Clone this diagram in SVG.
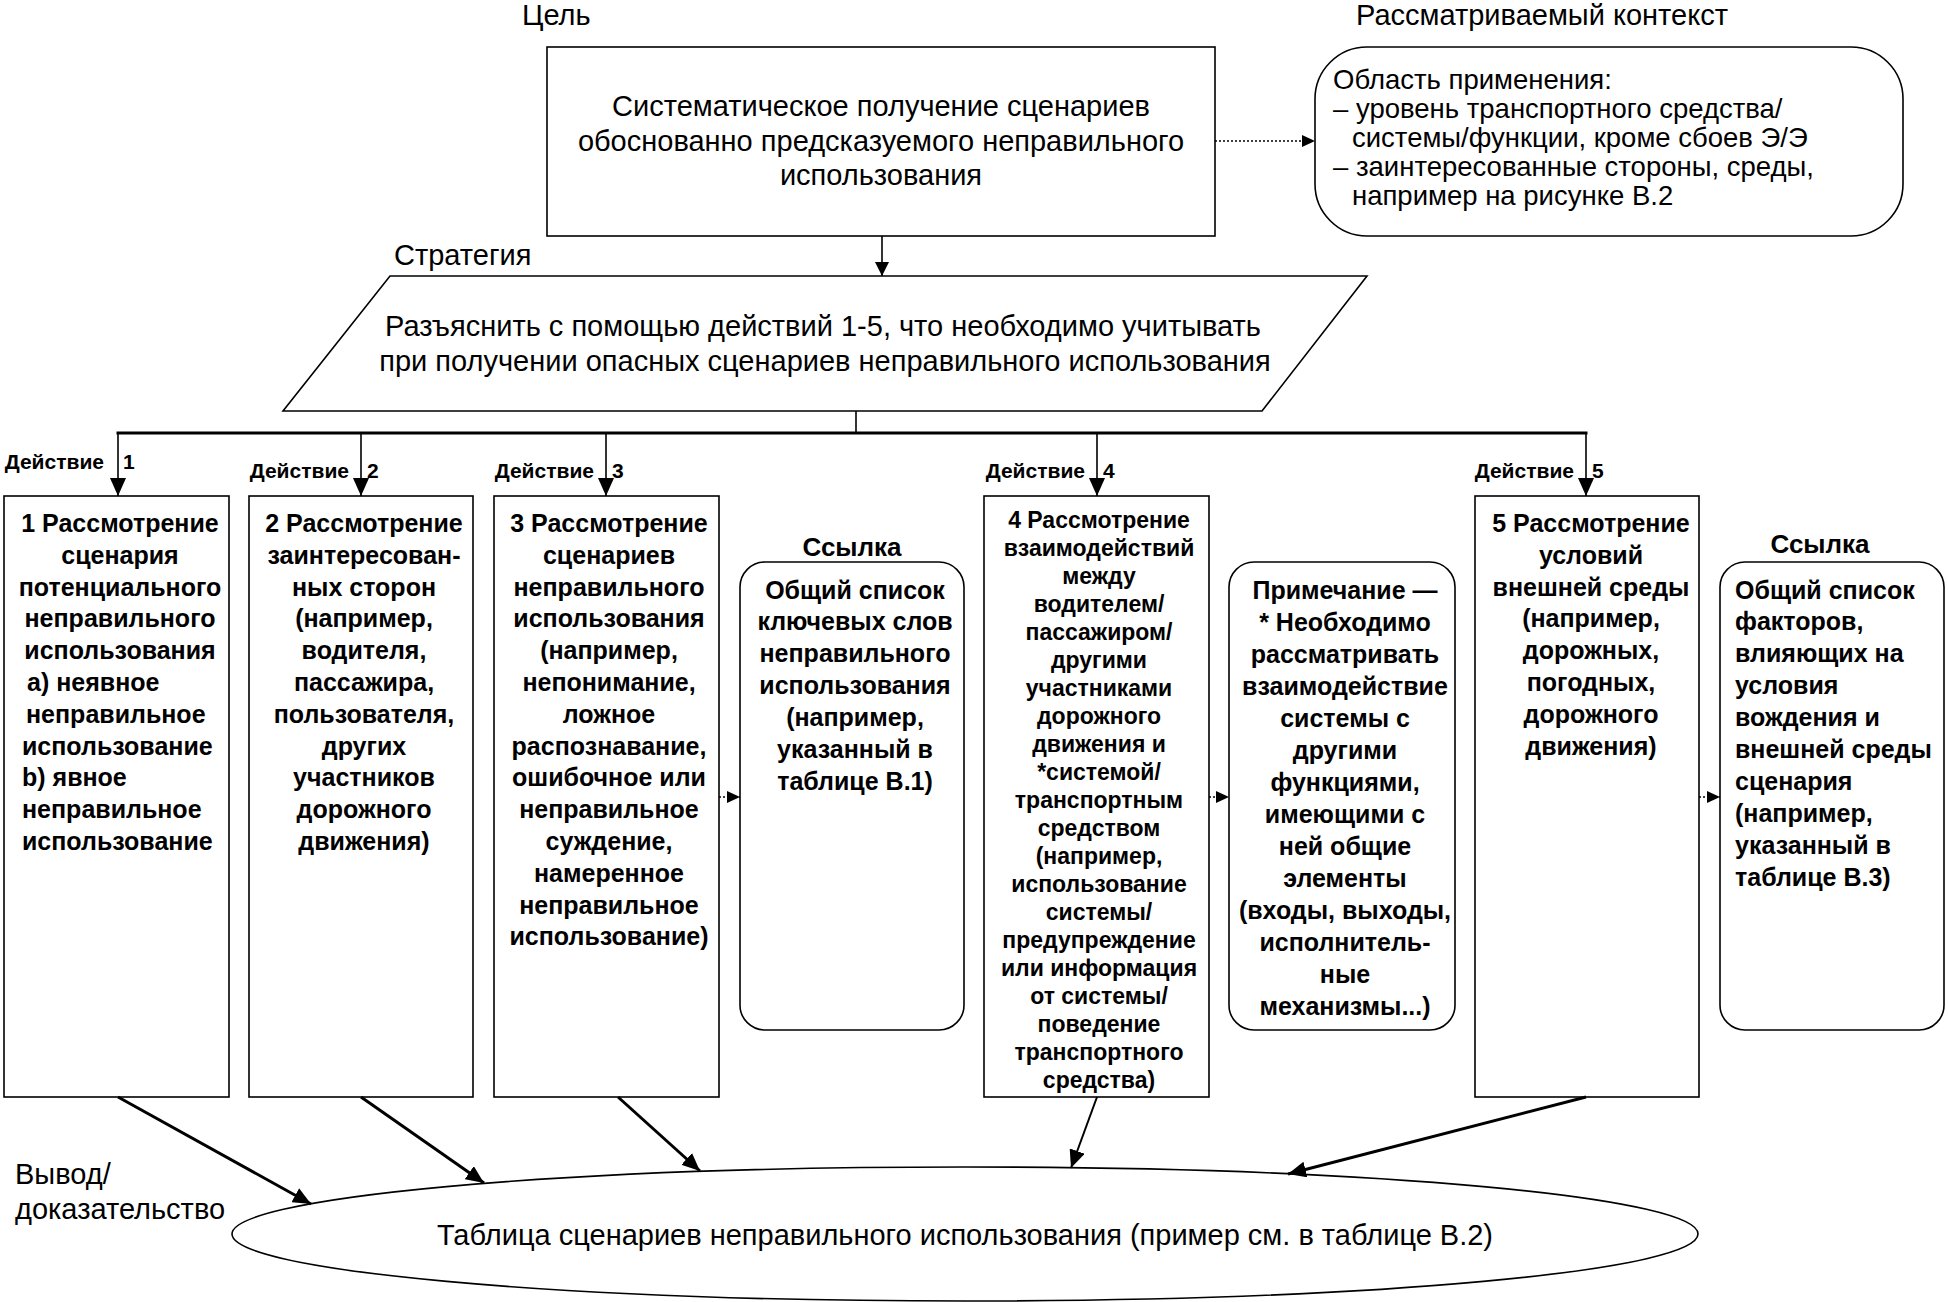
<svg xmlns="http://www.w3.org/2000/svg" width="1948" height="1302" viewBox="0 0 1948 1302">
<style>
.bg{fill:#fff}
.box{fill:#fff;stroke:#000;stroke-width:1.6}
.lbl{font-family:"Liberation Sans",Arial,sans-serif;font-size:29px;fill:#000}
.ctx{font-family:"Liberation Sans",Arial,sans-serif;font-size:27.5px;fill:#000}
.bt{font-family:"Liberation Sans",Arial,sans-serif;font-size:25px;font-weight:bold;fill:#000;text-anchor:middle}
.btl{font-family:"Liberation Sans",Arial,sans-serif;font-size:25px;font-weight:bold;fill:#000}
.bt4{font-family:"Liberation Sans",Arial,sans-serif;font-size:23px;font-weight:bold;fill:#000;text-anchor:middle}
.act{font-family:"Liberation Sans",Arial,sans-serif;font-size:21px;font-weight:bold;fill:#000}
.mid{text-anchor:middle}
.end{text-anchor:end}
.ln{stroke:#000;stroke-width:1.6;fill:none}
.bus{stroke:#000;stroke-width:3.2;fill:none}
.thick{stroke:#000;stroke-width:3;fill:none}
.dot{stroke:#000;stroke-width:1.6;fill:none;stroke-dasharray:2 2}
</style>
<defs>
<marker id="ah" markerUnits="userSpaceOnUse" viewBox="0 0 14 14" markerWidth="14" markerHeight="14" refX="14" refY="7" orient="auto"><path d="M0,0 L14,7 L0,14 z" fill="#000"/></marker>
<marker id="ahb" markerUnits="userSpaceOnUse" viewBox="0 0 18 16" markerWidth="18" markerHeight="16" refX="18" refY="8" orient="auto"><path d="M0,0 L18,8 L0,16 z" fill="#000"/></marker>
<marker id="ahs" markerUnits="userSpaceOnUse" viewBox="0 0 13 12" markerWidth="13" markerHeight="12" refX="13" refY="6" orient="auto"><path d="M0,0 L13,6 L0,12 z" fill="#000"/></marker>
</defs>
<rect class="bg" x="0" y="0" width="1948" height="1302"/>

<g id="labels">
<text class="lbl" x="522" y="25">Цель</text>
<text class="lbl" x="1356" y="25">Рассматриваемый контекст</text>
<text class="lbl" x="394" y="265">Стратегия</text>
<text class="lbl" x="15" y="1184">Вывод/</text>
<text class="lbl" x="15" y="1219">доказательство</text>
<text class="act end" x="104" y="469">Действие</text>
<text class="act" x="123" y="469">1</text>
<text class="act end" x="349" y="478">Действие</text>
<text class="act" x="367" y="478">2</text>
<text class="act end" x="594" y="478">Действие</text>
<text class="act" x="612" y="478">3</text>
<text class="act end" x="1085" y="478">Действие</text>
<text class="act" x="1103" y="478">4</text>
<text class="act end" x="1574" y="478">Действие</text>
<text class="act" x="1592" y="478">5</text>
</g>

<g id="goal">
<rect class="box" x="547" y="47" width="668" height="189"/>
<text class="lbl mid" x="881" y="116">Систематическое получение сценариев</text>
<text class="lbl mid" x="881" y="151">обоснованно предсказуемого неправильного</text>
<text class="lbl mid" x="881" y="185">использования</text>
</g>

<g id="context">
<rect class="box" x="1315" y="47" width="588" height="189" rx="52" ry="52"/>
<text class="ctx" x="1333" y="89">Область применения:</text>
<text class="ctx" x="1333" y="118">– уровень транспортного средства/</text>
<text class="ctx" x="1352" y="147">системы/функции, кроме сбоев Э/Э</text>
<text class="ctx" x="1333" y="176">– заинтересованные стороны, среды,</text>
<text class="ctx" x="1352" y="205">например на рисунке В.2</text>
</g>

<g id="strategy">
<polygon class="box" points="390,276 1367,276 1262,411 283,411"/>
<text class="lbl mid" x="823" y="336">Разъяснить с помощью действий 1-5, что необходимо учитывать</text>
<text class="lbl mid" x="825" y="371">при получении опасных сценариев неправильного использования</text>
</g>

<g id="action1">
<rect class="box" x="4" y="496" width="225" height="601"/>
<text class="bt" x="120" y="532">1 Рассмотрение</text>
<text class="bt" x="120" y="563.8">сценария</text>
<text class="bt" x="120" y="595.6">потенциального</text>
<text class="bt" x="120" y="627.4">неправильного</text>
<text class="bt" x="120" y="659.2">использования</text>
<text class="btl" x="27" y="691">a) неявное</text>
<text class="btl" x="26" y="722.8">неправильное</text>
<text class="btl" x="22" y="754.6">использование</text>
<text class="btl" x="22" y="786.4">b) явное</text>
<text class="btl" x="22" y="818.2">неправильное</text>
<text class="btl" x="22" y="850">использование</text>
</g>

<g id="action2">
<rect class="box" x="249" y="496" width="224" height="601"/>
<text class="bt" x="364" y="532">2 Рассмотрение</text>
<text class="bt" x="364" y="563.8">заинтересован-</text>
<text class="bt" x="364" y="595.6">ных сторон</text>
<text class="bt" x="364" y="627.4">(например,</text>
<text class="bt" x="364" y="659.2">водителя,</text>
<text class="bt" x="364" y="691">пассажира,</text>
<text class="bt" x="364" y="722.8">пользователя,</text>
<text class="bt" x="364" y="754.6">других</text>
<text class="bt" x="364" y="786.4">участников</text>
<text class="bt" x="364" y="818.2">дорожного</text>
<text class="bt" x="364" y="850">движения)</text>
</g>

<g id="action3">
<rect class="box" x="494" y="496" width="225" height="601"/>
<text class="bt" x="609" y="532">3 Рассмотрение</text>
<text class="bt" x="609" y="563.8">сценариев</text>
<text class="bt" x="609" y="595.6">неправильного</text>
<text class="bt" x="609" y="627.4">использования</text>
<text class="bt" x="609" y="659.2">(например,</text>
<text class="bt" x="609" y="691">непонимание,</text>
<text class="bt" x="609" y="722.8">ложное</text>
<text class="bt" x="609" y="754.6">распознавание,</text>
<text class="bt" x="609" y="786.4">ошибочное или</text>
<text class="bt" x="609" y="818.2">неправильное</text>
<text class="bt" x="609" y="850">суждение,</text>
<text class="bt" x="609" y="881.8">намеренное</text>
<text class="bt" x="609" y="913.6">неправильное</text>
<text class="bt" x="609" y="945.4">использование)</text>
</g>

<g id="reference1">
<text class="bt" x="852" y="556" style="font-size:26px">Ссылка</text>
<rect class="box" x="740" y="562" width="224" height="468" rx="25" ry="25"/>
<text class="bt" x="855" y="598.5">Общий список</text>
<text class="bt" x="855" y="630.4">ключевых слов</text>
<text class="bt" x="855" y="662.3">неправильного</text>
<text class="bt" x="855" y="694.2">использования</text>
<text class="bt" x="855" y="726.1">(например,</text>
<text class="bt" x="855" y="758">указанный в</text>
<text class="bt" x="855" y="789.9">таблице В.1)</text>
</g>

<g id="action4">
<rect class="box" x="984" y="496" width="225" height="601"/>
<text class="bt4" x="1099" y="528">4 Рассмотрение</text>
<text class="bt4" x="1099" y="556">взаимодействий</text>
<text class="bt4" x="1099" y="584">между</text>
<text class="bt4" x="1099" y="612">водителем/</text>
<text class="bt4" x="1099" y="640">пассажиром/</text>
<text class="bt4" x="1099" y="668">другими</text>
<text class="bt4" x="1099" y="696">участниками</text>
<text class="bt4" x="1099" y="724">дорожного</text>
<text class="bt4" x="1099" y="752">движения и</text>
<text class="bt4" x="1099" y="780">*системой/</text>
<text class="bt4" x="1099" y="808">транспортным</text>
<text class="bt4" x="1099" y="836">средством</text>
<text class="bt4" x="1099" y="864">(например,</text>
<text class="bt4" x="1099" y="892">использование</text>
<text class="bt4" x="1099" y="920">системы/</text>
<text class="bt4" x="1099" y="948">предупреждение</text>
<text class="bt4" x="1099" y="976">или информация</text>
<text class="bt4" x="1099" y="1004">от системы/</text>
<text class="bt4" x="1099" y="1032">поведение</text>
<text class="bt4" x="1099" y="1060">транспортного</text>
<text class="bt4" x="1099" y="1088">средства)</text>
</g>

<g id="note">
<rect class="box" x="1229" y="562" width="226" height="468" rx="25" ry="25"/>
<text class="bt" x="1345" y="598.5">Примечание —</text>
<text class="bt" x="1345" y="630.5">* Необходимо</text>
<text class="bt" x="1345" y="662.5">рассматривать</text>
<text class="bt" x="1345" y="694.5">взаимодействие</text>
<text class="bt" x="1345" y="726.5">системы с</text>
<text class="bt" x="1345" y="758.5">другими</text>
<text class="bt" x="1345" y="790.5">функциями,</text>
<text class="bt" x="1345" y="822.5">имеющими с</text>
<text class="bt" x="1345" y="854.5">ней общие</text>
<text class="bt" x="1345" y="886.5">элементы</text>
<text class="bt" x="1345" y="918.5">(входы, выходы,</text>
<text class="bt" x="1345" y="950.5">исполнитель-</text>
<text class="bt" x="1345" y="982.5">ные</text>
<text class="bt" x="1345" y="1014.5">механизмы...)</text>
</g>

<g id="action5">
<rect class="box" x="1475" y="496" width="224" height="601"/>
<text class="bt" x="1591" y="532">5 Рассмотрение</text>
<text class="bt" x="1591" y="563.8">условий</text>
<text class="bt" x="1591" y="595.6">внешней среды</text>
<text class="bt" x="1591" y="627.4">(например,</text>
<text class="bt" x="1591" y="659.2">дорожных,</text>
<text class="bt" x="1591" y="691">погодных,</text>
<text class="bt" x="1591" y="722.8">дорожного</text>
<text class="bt" x="1591" y="754.6">движения)</text>
</g>

<g id="reference2">
<text class="bt" x="1820" y="553" style="font-size:26px">Ссылка</text>
<rect class="box" x="1720" y="562" width="224" height="468" rx="25" ry="25"/>
<text class="btl" x="1735" y="598.5">Общий список</text>
<text class="btl" x="1735" y="630.4">факторов,</text>
<text class="btl" x="1735" y="662.3">влияющих на</text>
<text class="btl" x="1735" y="694.2">условия</text>
<text class="btl" x="1735" y="726.1">вождения и</text>
<text class="btl" x="1735" y="758">внешней среды</text>
<text class="btl" x="1735" y="789.9">сценария</text>
<text class="btl" x="1735" y="821.8">(например,</text>
<text class="btl" x="1735" y="853.7">указанный в</text>
<text class="btl" x="1735" y="885.6">таблице В.3)</text>
</g>

<g id="output">
<ellipse class="box" cx="965" cy="1234" rx="733" ry="67"/>
<text class="lbl mid" x="965" y="1245">Таблица сценариев неправильного использования (пример см. в таблице В.2)</text>
</g>

<g id="connectors">
<line class="ln" x1="882" y1="236" x2="882" y2="276" marker-end="url(#ah)"/>
<line class="dot" x1="1215" y1="141" x2="1315" y2="141" marker-end="url(#ahs)"/>
<line class="ln" x1="856" y1="411" x2="856" y2="433"/>
<line class="bus" x1="116.5" y1="433" x2="1587.5" y2="433"/>
<line class="ln" x1="118" y1="433" x2="118" y2="496" marker-end="url(#ahb)"/>
<line class="ln" x1="361" y1="433" x2="361" y2="496" marker-end="url(#ahb)"/>
<line class="ln" x1="606" y1="433" x2="606" y2="496" marker-end="url(#ahb)"/>
<line class="ln" x1="1097" y1="433" x2="1097" y2="496" marker-end="url(#ahb)"/>
<line class="ln" x1="1586" y1="433" x2="1586" y2="496" marker-end="url(#ahb)"/>
<line class="dot" x1="719" y1="797" x2="740" y2="797" marker-end="url(#ahs)"/>
<line class="dot" x1="1209" y1="797" x2="1229" y2="797" marker-end="url(#ahs)"/>
<line class="dot" x1="1699" y1="797" x2="1720" y2="797" marker-end="url(#ahs)"/>
<line class="thick" x1="118" y1="1097" x2="311" y2="1204" marker-end="url(#ahb)"/>
<line class="thick" x1="361" y1="1097" x2="484" y2="1183" marker-end="url(#ahb)"/>
<line class="thick" x1="618" y1="1097" x2="700" y2="1171" marker-end="url(#ahb)"/>
<line class="ln" x1="1097" y1="1097" x2="1071" y2="1168" marker-end="url(#ahb)" style="stroke-width:2"/>
<line class="thick" x1="1586" y1="1097" x2="1288" y2="1174" marker-end="url(#ahb)"/>
</g>
</svg>
